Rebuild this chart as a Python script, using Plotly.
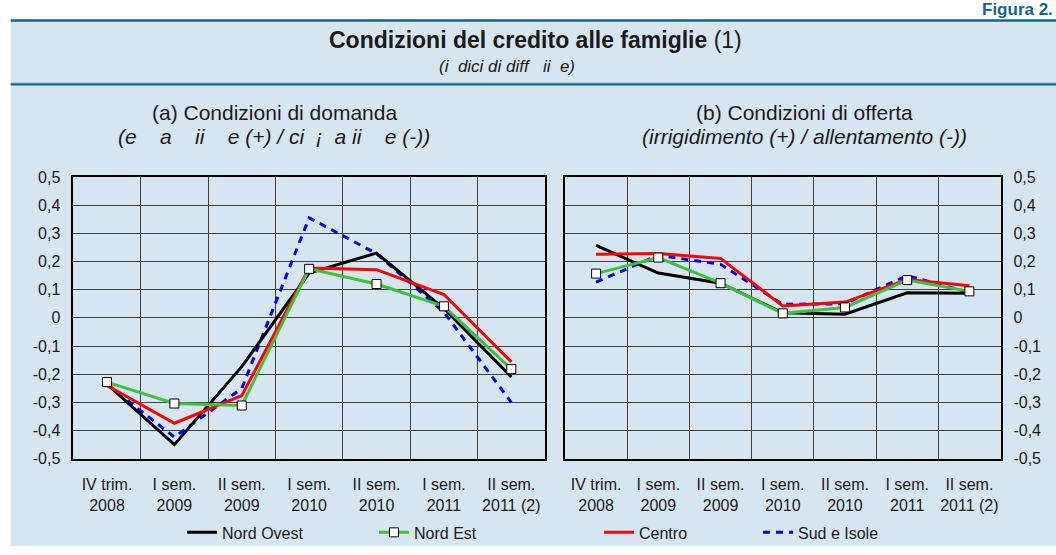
import plotly.graph_objects as go

# ---------------- data ----------------
categories = ["IV trim.<br>2008", "I sem.<br>2009", "II sem.<br>2009", "I sem.<br>2010",
              "II sem.<br>2010", "I sem.<br>2011", "II sem.<br>2011 (2)"]

dom_nord_ovest = [-0.235, -0.45, -0.173, 0.159, 0.23, 0.033, -0.21]
dom_nord_est = [-0.228, -0.304, -0.311, 0.174, 0.12, 0.041, -0.182]
dom_centro = [-0.24, -0.374, -0.276, 0.177, 0.171, 0.083, -0.156]
dom_sud_isole = [-0.236, -0.423, -0.25, 0.355, 0.228, 0.02, -0.30]

off_nord_ovest = [0.257, 0.159, 0.123, 0.018, 0.013, 0.089, 0.087]
off_nord_est = [0.157, 0.214, 0.123, 0.016, 0.037, 0.134, 0.094]
off_centro = [0.226, 0.228, 0.211, 0.042, 0.056, 0.136, 0.114]
off_sud_isole = [0.127, 0.222, 0.19, 0.048, 0.05, 0.15, 0.09]

y_tick_values = [-0.5, -0.4, -0.3, -0.2, -0.1, 0, 0.1, 0.2, 0.3, 0.4, 0.5]
y_tick_labels = ["-0,5", "-0,4", "-0,3", "-0,2", "-0,1", "0", "0,1", "0,2", "0,3", "0,4", "0,5"]

series_names = ["Nord Ovest", "Nord Est", "Centro", "Sud e Isole"]

# ---------------- layout helpers ----------------
W, H = 1056, 555
FONT = "Liberation Sans, Arial, Helvetica, sans-serif"
BLUE_BG = "#d5e6f0"
TEAL = "#14658a"
TXT = "#1a1a1a"

def px(xp):
    return xp / W

def py(yp):
    return 1 - yp / H

x_idx = list(range(len(categories)))

fig = go.Figure()

styles = {
    "Nord Ovest": dict(line=dict(color="#000000", width=3), mode="lines"),
    "Nord Est": dict(line=dict(color="#3fc03f", width=3), mode="lines+markers",
                     marker=dict(symbol="square", size=9, color="white",
                                 line=dict(color="#000000", width=1))),
    "Centro": dict(line=dict(color="#ff0000", width=3), mode="lines"),
    "Sud e Isole": dict(line=dict(color="#0000ff", width=3, dash="7px,6px"), mode="lines"),
}
legend_ids = {"Nord Ovest": "legend", "Nord Est": "legend2", "Centro": "legend3", "Sud e Isole": "legend4"}

dom = {"Nord Ovest": dom_nord_ovest, "Nord Est": dom_nord_est, "Centro": dom_centro, "Sud e Isole": dom_sud_isole}
off = {"Nord Ovest": off_nord_ovest, "Nord Est": off_nord_est, "Centro": off_centro, "Sud e Isole": off_sud_isole}

draw_order = ["Sud e Isole", "Nord Ovest", "Centro", "Nord Est"]
for name in draw_order:
    st = styles[name]
    fig.add_trace(go.Scatter(x=x_idx, y=dom[name], name=name, xaxis="x", yaxis="y",
                             legend=legend_ids[name], showlegend=True, **st))
    fig.add_trace(go.Scatter(x=x_idx, y=off[name], name=name, xaxis="x2", yaxis="y2",
                             legend=legend_ids[name], showlegend=False, **st))

grid_color = "#404040"
minor_vals = [i + 0.5 for i in x_idx[:-1]]

xaxis_common = dict(
    range=[-0.5, len(categories) - 0.5], tickvals=x_idx, ticktext=categories,
    showgrid=False, zeroline=False, showline=True, mirror=True, linecolor="#000000", linewidth=1.5,
    ticks="", tickfont=dict(family=FONT, size=16, color=TXT), ticklabelstandoff=10,
    minor=dict(tickvals=minor_vals, showgrid=True, gridcolor=grid_color, gridwidth=1, ticks=""),
    fixedrange=True,
)
yaxis_common = dict(
    range=[-0.5, 0.5], tickvals=y_tick_values, ticktext=y_tick_labels,
    showgrid=True, gridcolor=grid_color, gridwidth=1, zeroline=False,
    showline=True, mirror=True, linecolor="#000000", linewidth=1.5,
    ticks="", tickfont=dict(family=FONT, size=16, color=TXT), ticklabelstandoff=8,
    fixedrange=True,
)

y_dom = [py(465), py(174.3)]

legend_common = dict(orientation="h", yanchor="middle", xanchor="left", y=py(541),
                     bgcolor="rgba(0,0,0,0)", font=dict(family=FONT, size=16, color=TXT),
                     itemwidth=30)

fig.update_layout(
    width=W, height=H,
    margin=dict(l=0, r=0, t=0, b=0),
    paper_bgcolor="white", plot_bgcolor="white",
    font=dict(family=FONT, size=16, color=TXT),
    xaxis=dict(domain=[px(73.3), px(545)], anchor="y", **xaxis_common),
    yaxis=dict(domain=y_dom, anchor="x", side="left", **yaxis_common),
    xaxis2=dict(domain=[px(565), px(1000.5)], anchor="y2", **xaxis_common),
    yaxis2=dict(domain=y_dom, anchor="x2", side="right", **yaxis_common),
    legend=dict(x=px(182), **legend_common),
    legend2=dict(x=px(374), **legend_common),
    legend3=dict(x=px(599), **legend_common),
    legend4=dict(x=px(758), **legend_common),
    shapes=[
        dict(type="rect", xref="paper", yref="paper", x0=px(10.7), x1=1, y0=0, y1=py(12),
             fillcolor=BLUE_BG, line=dict(width=0), layer="below"),
        dict(type="line", xref="paper", yref="paper", x0=px(10.7), x1=1, y0=py(13), y1=py(13),
             line=dict(color=TEAL, width=2.5), layer="below"),
        dict(type="line", xref="paper", yref="paper", x0=px(10.7), x1=1, y0=py(77.5), y1=py(77.5),
             line=dict(color="#6fa3bd", width=1), layer="below"),
        dict(type="line", xref="paper", yref="paper", x0=px(10.7), x1=1, y0=py(79), y1=py(79),
             line=dict(color=TEAL, width=2), layer="below"),
    ],
)

NB = "\u00a0"
annotations = [
    dict(text="<b>Figura 2.</b>", x=px(1054), y=py(12), xanchor="right", yanchor="bottom",
         font=dict(family=FONT, size=17, color=TEAL), borderpad=0),
    dict(text="<b>Condizioni del credito alle famiglie</b> (1)", x=px(535.5), y=py(33),
         xanchor="center", yanchor="middle", font=dict(family=FONT, size=23, color=TXT)),
    dict(text="<i>(i" + NB * 2 + "dici di diff" + NB * 3 + "ii" + NB * 2 + "e)</i>", x=px(507), y=py(60),
         xanchor="center", yanchor="middle", font=dict(family=FONT, size=17, color=TXT)),
    dict(text="(a) Condizioni di domanda", x=px(274), y=py(108),
         xanchor="center", yanchor="middle", font=dict(family=FONT, size=21, color=TXT)),
    dict(text="<i>(e" + NB * 4 + "a" + NB * 4 + "ii" + NB * 4 + "e (+) / ci " + NB + "¡" + NB + " a ii" + NB * 4 + "e (-))</i>",
         x=px(274), y=py(133), xanchor="center", yanchor="middle",
         font=dict(family=FONT, size=21, color=TXT)),
    dict(text="(b) Condizioni di offerta", x=px(804), y=py(108),
         xanchor="center", yanchor="middle", font=dict(family=FONT, size=21, color=TXT)),
    dict(text="<i>(irrigidimento (+) / allentamento (-))</i>", x=px(804), y=py(133),
         xanchor="center", yanchor="middle", font=dict(family=FONT, size=21, color=TXT)),
]
for a in annotations:
    a.update(xref="paper", yref="paper", showarrow=False)
fig.update_layout(annotations=annotations)

fig.write_html("out.html", config=dict(displayModeBar=False),
               post_script="document.body.style.margin='0';document.body.style.overflow='hidden';")
